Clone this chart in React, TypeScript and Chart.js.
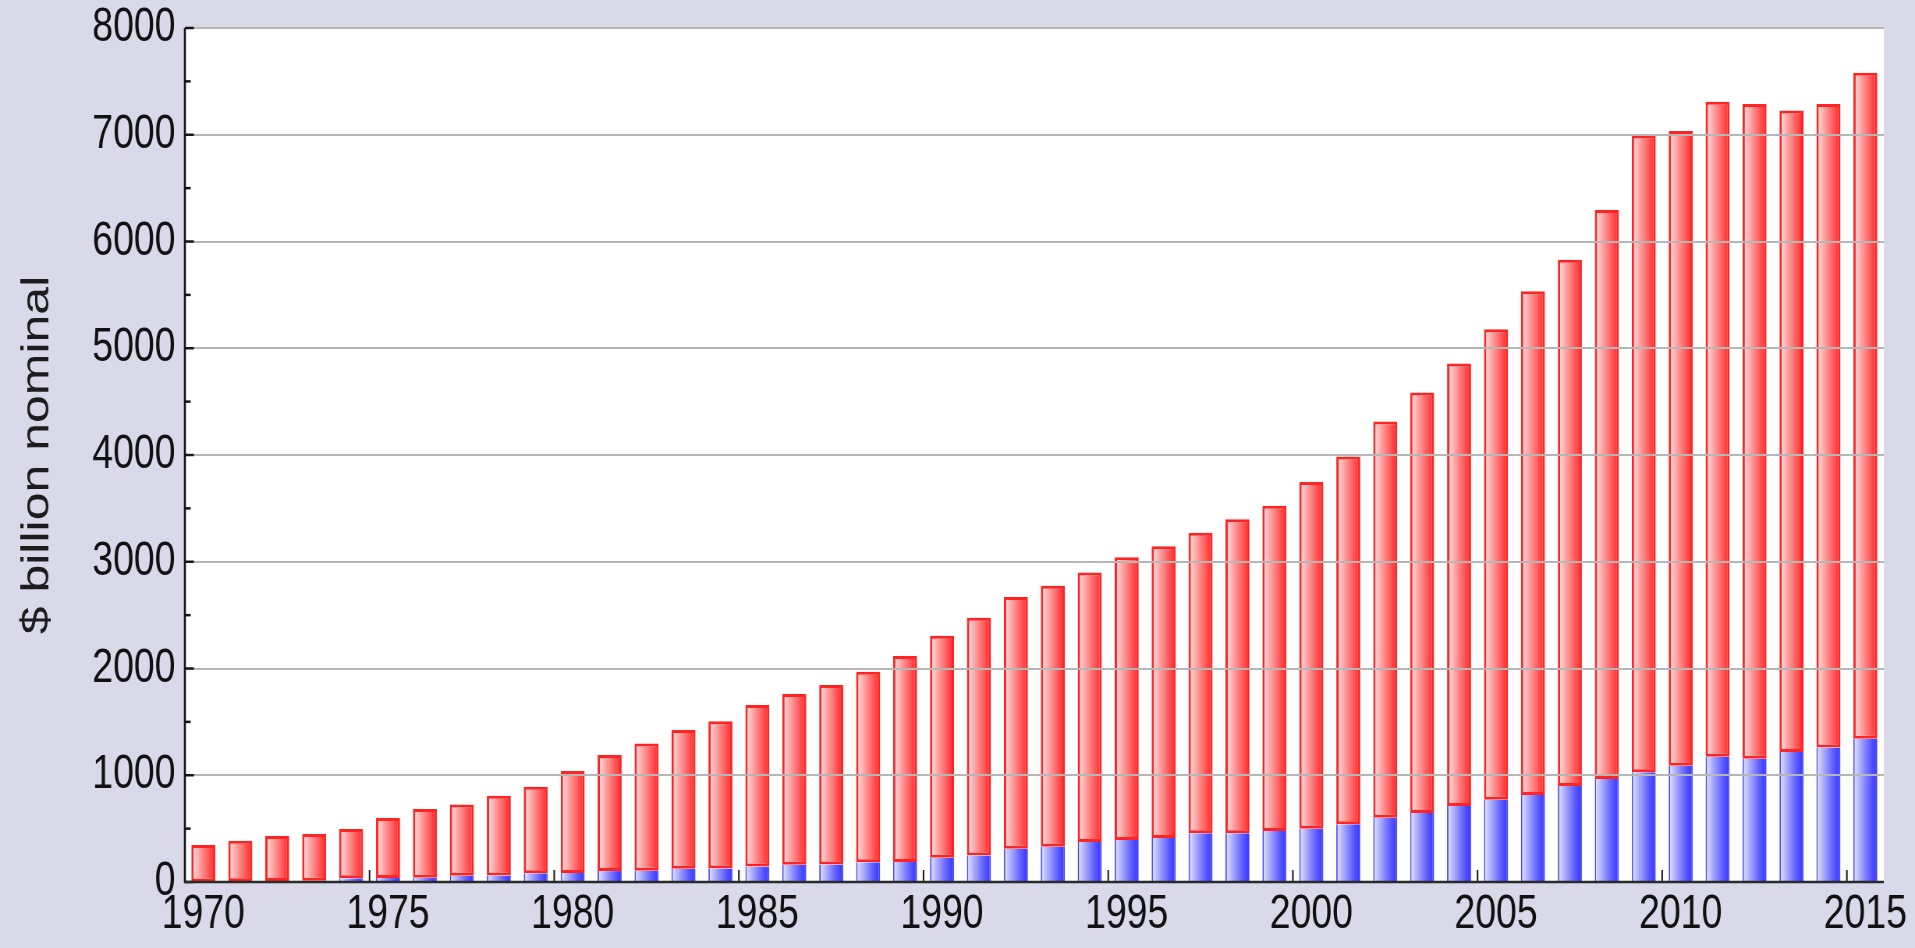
import React, { useEffect, useRef } from 'react';
import { Chart, registerables } from 'chart.js';

Chart.register(...registerables);

// ---- data ----
const years = [
  '1970', '1971', '1972', '1973', '1974', '1975', '1976', '1977', '1978', '1979',
  '1980', '1981', '1982', '1983', '1984', '1985', '1986', '1987', '1988', '1989',
  '1990', '1991', '1992', '1993', '1994', '1995', '1996', '1997', '1998', '1999',
  '2000', '2001', '2002', '2003', '2004', '2005', '2006', '2007', '2008', '2009',
  '2010', '2011', '2012', '2013', '2014', '2015',
];

// lower (blue) segment
const blueValues = [
  5, 7, 9, 12, 35, 38, 40, 58, 62, 82,
  85, 102, 105, 124, 126, 145, 162, 165, 184, 188,
  228, 248, 312, 331, 375, 393, 412, 456, 456, 478,
  499, 540, 602, 646, 712, 771, 815, 899, 964, 1027,
  1089, 1173, 1155, 1217, 1261, 1342,
];

// upper (red) segment
const redValues = [
  341, 380, 422, 437, 461, 561, 643, 669, 746, 811,
  954, 1087, 1193, 1299, 1381, 1512, 1598, 1680, 1785, 1928,
  2078, 2227, 2357, 2444, 2525, 2650, 2734, 2816, 2943, 3046,
  3249, 3445, 3711, 3939, 4144, 4407, 4719, 4931, 5331, 5967,
  5946, 6137, 6133, 6009, 6027, 6239,
];

const yTickValues = [0, 1000, 2000, 3000, 4000, 5000, 6000, 7000, 8000];
const yMinorTickValues = [500, 1500, 2500, 3500, 4500, 5500, 6500, 7500];
const xLabelEvery = 5;
const yAxisTitle = '$ billion nominal';

// ---- look ----
const VIEW_W = 1915;
const VIEW_H = 948;
const SQUEEZE_X = 0.78; // reference is horizontally condensed
const CANVAS_W = Math.round(VIEW_W / SQUEEZE_X);
const BG = '#d9d9e9';
const FONT = "'Liberation Sans', Arial, Helvetica, sans-serif";
const BAR_PCT = 0.65;

const redStops: [number, string][] = [
  [0, '#ffe6e6'],
  [0.3, '#ffaaaa'],
  [0.7, '#ff5c5c'],
  [1, '#ff2222'],
];
const blueStops: [number, string][] = [
  [0, '#e8e8ff'],
  [0.3, '#aaaaff'],
  [0.7, '#5e5eff'],
  [1, '#3232ff'],
];

function gradientFill(stops: [number, string][]) {
  return (c: any) => {
    const chart = c.chart;
    const xs = chart.scales && chart.scales.x;
    if (!xs || c.dataIndex == null || !chart.ctx) return stops[stops.length - 1][1];
    const cx = xs.getPixelForValue(c.dataIndex);
    const half = (xs.width / years.length) * BAR_PCT / 2;
    if (!isFinite(cx) || !isFinite(half) || half <= 0) return stops[stops.length - 1][1];
    const g = chart.ctx.createLinearGradient(cx - half, 0, cx + half, 0);
    stops.forEach(([o, col]) => g.addColorStop(o, col));
    return g;
  };
}

const framePlugin = {
  id: 'frame',
  beforeDraw(chart: any) {
    const { ctx, chartArea: a, width, height } = chart;
    ctx.save();
    ctx.fillStyle = BG;
    ctx.fillRect(0, 0, width, height);
    ctx.fillStyle = '#ffffff';
    ctx.fillRect(a.left, a.top, a.right - a.left, a.bottom - a.top);
    ctx.restore();
  },
  afterDraw(chart: any) {
    const { ctx, chartArea: a, scales } = chart;
    const ys = scales.y;
    const xs = scales.x;
    const line = (x1: number, y1: number, x2: number, y2: number) => {
      ctx.beginPath();
      ctx.moveTo(x1, y1);
      ctx.lineTo(x2, y2);
      ctx.stroke();
    };
    ctx.save();
    ctx.strokeStyle = '#151515';
    ctx.lineCap = 'butt';
    // y major / minor ticks (inside the plot)
    ctx.lineWidth = 2.5;
    yTickValues.forEach((v) => {
      const py = ys.getPixelForValue(v);
      line(a.left, py, a.left + 11.5, py);
    });
    yMinorTickValues.forEach((v) => {
      const py = ys.getPixelForValue(v);
      line(a.left, py, a.left + 7.5, py);
    });
    // x ticks between categories every 5 years
    ctx.lineWidth = 2;
    years.forEach((_, i) => {
      if (i > 0 && i % xLabelEvery === 0) {
        const px = (xs.getPixelForValue(i - 1) + xs.getPixelForValue(i)) / 2;
        line(px, a.bottom, px, a.bottom - 12);
      }
    });
    // axes
    ctx.lineWidth = 2.6;
    line(a.left, a.top, a.left, a.bottom + 1);
    ctx.strokeStyle = '#2a2a2a';
    ctx.lineWidth = 2.5;
    line(a.left - 1, a.bottom, a.right, a.bottom);
    ctx.restore();
  },
};

export default function App() {
  const ref = useRef<HTMLCanvasElement | null>(null);

  useEffect(() => {
    if (!ref.current) return;
    const chart = new Chart(ref.current, {
      type: 'bar',
      data: {
        labels: years,
        datasets: [
          {
            label: 'blue',
            data: blueValues,
            backgroundColor: gradientFill(blueStops) as any,
            borderColor: '#4444ff',
            borderWidth: { left: 1.8, right: 1.8, top: 0, bottom: 0 } as any,
            borderSkipped: false,
            barPercentage: BAR_PCT,
            categoryPercentage: 1,
          },
          {
            label: 'red',
            data: redValues,
            backgroundColor: gradientFill(redStops) as any,
            borderColor: '#ff2424',
            borderWidth: 3,
            borderSkipped: false,
            barPercentage: BAR_PCT,
            categoryPercentage: 1,
          },
        ],
      },
      options: {
        responsive: false,
        devicePixelRatio: 1,
        animation: false,
        layout: { padding: { top: 28, right: 40, bottom: 0, left: 0 } },
        plugins: {
          legend: { display: false },
          tooltip: { enabled: false },
          title: { display: false },
        },
        scales: {
          x: {
            stacked: true,
            offset: true,
            grid: { display: false, drawTicks: false },
            border: { display: false },
            ticks: {
              autoSkip: false,
              maxRotation: 0,
              minRotation: 0,
              padding: 6,
              color: '#111111',
              font: { family: FONT, size: 48, lineHeight: 1.1 },
              callback: (_v: any, i: number) => (i % xLabelEvery === 0 ? years[i] : ''),
            },
            afterFit: (s: any) => {
              s.height = 66;
            },
          },
          y: {
            stacked: true,
            min: 0,
            max: 8000,
            afterBuildTicks: (s: any) => {
              s.ticks = yTickValues.map((v) => ({ value: v }));
            },
            grid: {
              drawTicks: true,
              tickLength: 11,
              tickColor: 'rgba(0,0,0,0)',
              lineWidth: 2,
              z: 1,
              color: (c: any) => (c.tick && c.tick.value === 0 ? 'rgba(0,0,0,0)' : '#b6b6b6'),
            },
            border: { display: false },
            ticks: {
              padding: 1,
              color: '#111111',
              font: { family: FONT, size: 48, lineHeight: 1.0 },
              callback: (v: any) => String(v),
            },
            title: {
              display: true,
              text: yAxisTitle,
              color: '#1c1c1c',
              font: { family: FONT, size: 50, lineHeight: 1.2 },
              padding: { top: 18, bottom: 0 },
            },
            afterFit: (s: any) => {
              s.width = 237;
            },
          },
        },
      },
      plugins: [framePlugin],
    });
    return () => chart.destroy();
  }, []);

  return (
    <>
      <style>{`html,body{margin:0;padding:0;background:${BG};overflow:hidden;}`}</style>
      <canvas
        ref={ref}
        width={CANVAS_W}
        height={VIEW_H}
        style={{ width: `${VIEW_W}px`, height: `${VIEW_H}px`, display: 'block' }}
      />
    </>
  );
}
